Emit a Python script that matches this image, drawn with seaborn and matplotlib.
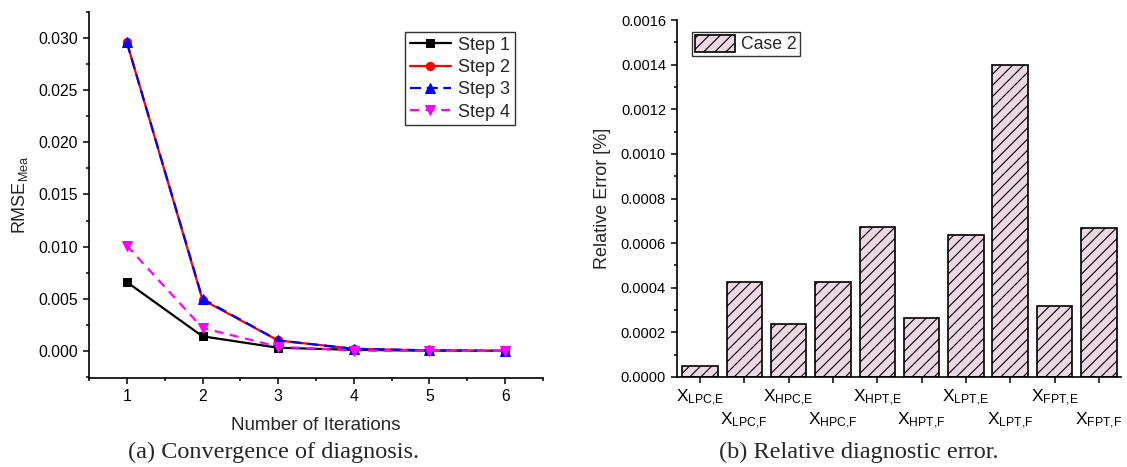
import numpy as np
import pandas as pd
import matplotlib
matplotlib.use("Agg")
import matplotlib.pyplot as plt
from matplotlib.ticker import MultipleLocator, FormatStrFormatter
import seaborn as sns

# ---- data ----
iterations = [1, 2, 3, 4, 5, 6]
step1 = [0.0066, 0.0014, 0.0003, 0.0001, 0.00002, 0.0]
step2 = [0.0296, 0.0049, 0.0010, 0.0002, 0.00004, 0.0]
step3 = [0.0296, 0.0050, 0.0010, 0.0002, 0.00005, 0.0]
step4 = [0.0101, 0.0022, 0.0004, 0.00003, 0.00001, 0.0]

params = ["LPC,E", "LPC,F", "HPC,E", "HPC,F", "HPT,E",
          "HPT,F", "LPT,E", "LPT,F", "FPT,E", "FPT,F"]
rel_error = [0.000048, 0.000425, 0.000236, 0.000425, 0.000672,
             0.000263, 0.000636, 0.001398, 0.000318, 0.000666]

# ---- style ----
sns.set_style("ticks")
plt.rcParams["font.family"] = ["Liberation Sans", "DejaVu Sans"]
plt.rcParams["mathtext.default"] = "regular"
plt.rcParams["hatch.color"] = "black"
plt.rcParams["hatch.linewidth"] = 0.8
plt.rcParams["axes.linewidth"] = 1.2
plt.rcParams["xtick.color"] = "black"
plt.rcParams["ytick.color"] = "black"
plt.rcParams["axes.edgecolor"] = "black"

W, H = 1127, 467
fig = plt.figure(figsize=(W / 100, H / 100), dpi=100)

def box(l, r, t, b):
    return [l / W, 1 - b / H, (r - l) / W, (b - t) / H]

# ---- (a) convergence lines ----
ax1 = fig.add_axes(box(89, 543, 12, 378))
series = [
    ("Step 1", step1, "black", "s", 5.5, None),
    ("Step 2", step2, "red", "o", 6, None),
    ("Step 3", step3, "blue", "^", 7, (5, 2.5)),
    ("Step 4", step4, "magenta", "v", 7, (4, 3)),
]
for name, vals, col, mk, ms, dash in series:
    df = pd.DataFrame({"it": iterations, "val": vals})
    sns.lineplot(data=df, x="it", y="val", ax=ax1, color=col, marker=mk,
                 markersize=ms, markeredgecolor=col, linewidth=1.6,
                 label=name)
    if dash is not None:
        ax1.get_lines()[-1].set_dashes(dash)

ax1.set_xlim(0.5, 6.5)
ax1.set_ylim(-0.0026, 0.0325)
ax1.xaxis.set_major_locator(MultipleLocator(1))
ax1.xaxis.set_minor_locator(MultipleLocator(0.5))
ax1.yaxis.set_major_locator(MultipleLocator(0.005))
ax1.yaxis.set_minor_locator(MultipleLocator(0.0025))
ax1.yaxis.set_major_formatter(FormatStrFormatter("%.3f"))
ax1.tick_params(which="major", length=4.5, width=1.1, labelsize=11.3, direction="out")
ax1.tick_params(which="minor", length=2.5, width=1.1, direction="out")
ax1.set_xlabel("Number of Iterations", fontsize=13.5, labelpad=9)
ax1.set_ylabel("$RMSE_{Mea}$", fontsize=13, labelpad=6)
sns.despine(ax=ax1)
leg1 = ax1.legend(loc="upper left",
                  bbox_to_anchor=((405 - 89) / 454, (378 - 32) / 366),
                  fontsize=13, frameon=True, fancybox=False, edgecolor="black",
                  handlelength=2.3, borderpad=0.25, labelspacing=0.3,
                  handletextpad=0.4, borderaxespad=0)
leg1.get_frame().set_linewidth(1.0)

# ---- (b) relative error bars ----
ax2 = fig.add_axes(box(677, 1121, 20, 377))
bar_df = pd.DataFrame({"param": params, "err": rel_error})
sns.barplot(data=bar_df, x="param", y="err", ax=ax2, color="#ecd8e2",
            saturation=1, edgecolor="black", linewidth=1.2, hatch="///",
            width=0.8)
ax2.set_xlim(-0.52, 9.5)
ax2.set_ylim(0, 0.0016)
ax2.yaxis.set_major_locator(MultipleLocator(0.0002))
ax2.yaxis.set_minor_locator(MultipleLocator(0.0001))
ax2.yaxis.set_major_formatter(FormatStrFormatter("%.4f"))
ax2.set_xticks(range(len(params)))
ax2.set_xticklabels(["$X_{" + p.replace(",", "{,}") + "}$" for p in params],
                    fontsize=12.5)
for i, t in enumerate(ax2.xaxis.get_major_ticks()):
    t.set_pad(3 if i % 2 == 0 else 20)
ax2.tick_params(which="major", length=4.5, width=1.1, direction="out")
ax2.tick_params(axis="y", labelsize=10.5)
ax2.tick_params(which="minor", length=2.5, width=1.1, direction="out")
ax2.set_xlabel("")
ax2.set_ylabel("Relative Error [%]", fontsize=13, labelpad=7)
sns.despine(ax=ax2)
leg2 = ax2.legend(handles=[ax2.patches[0]], labels=["Case 2"],
                  loc="upper left",
                  bbox_to_anchor=((692 - 677) / 444, (377 - 32) / 357),
                  fontsize=12.7, frameon=True, fancybox=False, edgecolor="black",
                  handlelength=2.3, handleheight=1.15, borderpad=0.15,
                  handletextpad=0.35, borderaxespad=0)
leg2.get_frame().set_linewidth(1.0)

# ---- captions ----
fig.text(274 / W, 1 - 452 / H, "(a) Convergence of diagnosis.",
         family="Liberation Serif", fontsize=17.5, ha="center", va="center")
fig.text(859 / W, 1 - 452 / H, "(b) Relative diagnostic error.",
         family="Liberation Serif", fontsize=17.5, ha="center", va="center")

fig.savefig("out.png", dpi=100)
